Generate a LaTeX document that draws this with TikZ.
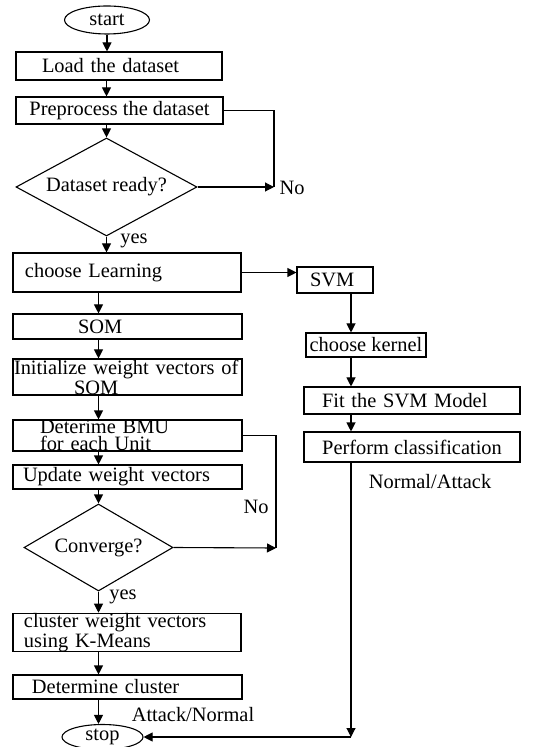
\documentclass[tikz,border=0pt]{standalone}
\usepackage{fontspec}
\setmainfont{Liberation Serif}
\usetikzlibrary{shapes.geometric,arrows.meta}

\begin{document}
\begin{tikzpicture}[x=0.5pt, y=-0.5pt, line width=0.55pt,
    font=\fontsize{10.2}{7.5}\selectfont,
    box/.style={draw, rectangle, align=left, inner ysep=0pt},
    cbox/.style={draw, rectangle, align=center, inner sep=0pt},
    decision/.style={draw, diamond, aspect=2, inner sep=0pt},
    terminal/.style={draw, ellipse, inner sep=0pt},
    arr/.style={-{Triangle[length=4.5pt,width=4.5pt]}}]
    \useasboundingbox (0,0) rectangle (553,747);

    % Start and dataset
    \node[terminal, minimum width=42.5pt, minimum height=14pt] (start) at (107,20) {start};
    \node[box, text width=77pt, inner xsep=13pt, minimum height=14pt] (load) at (119,66) {Load the dataset};
    \node[cbox, minimum width=103.5pt, minimum height=13.5pt] (prep) at (119.5,110.5) {Preprocess the dataset};
    \node[decision, minimum width=90.5pt, minimum height=49pt] (ready) at (106.5,187) {Dataset ready?};

    % Learning choice
    \node[box, text width=102pt, inner xsep=6pt, minimum height=19.5pt] (learn) at (127,272.5) {choose Learning};
    \node[box, text width=25pt, inner xsep=6.5pt, minimum height=13pt] (svm) at (335,280) {SVM};

    % SOM branch
    \node[box, text width=49.5pt, inner xsep=32.5pt, minimum height=12.5pt] (som) at (127.5,326.5) {SOM};
    \node[box, text width=113.5pt, inner xsep=0.5pt, minimum height=18pt] (init) at (127.5,377) {Initialize weight vectors of\\\hspace*{30pt}SOM};
    \node[box, text width=87.5pt, inner xsep=13.5pt, minimum height=15.5pt, font=\fontsize{10.2}{8.6}\selectfont] (bmu) at (127.5,435.5) {Deterime BMU\\for each Unit};
    \node[box, text width=104.5pt, inner xsep=5pt, minimum height=12pt] (update) at (127.5,477) {Update weight vectors};
    \node[decision, minimum width=74.5pt, minimum height=43.5pt] (conv) at (98.5,547.5) {Converge?};
    \node[box, text width=103pt, inner xsep=5.5pt, minimum height=17.5pt] (cluster) at (127,632.5) {cluster weight vectors\\using K-Means};
    \node[box, text width=95.5pt, inner xsep=9.5pt, minimum height=12pt] (det) at (127.5,687) {Determine cluster};
    \node[terminal, minimum width=40.5pt, minimum height=12.5pt] (stop) at (102.5,737) {stop};

    % SVM branch
    \node[cbox, minimum width=60pt, minimum height=12pt] (kernel) at (366,345) {choose kernel};
    \node[box, text width=90pt, inner xsep=9pt, minimum height=13.5pt] (fit) at (412,400.5) {Fit the SVM Model};
    \node[cbox, minimum width=108pt, minimum height=15pt] (perf) at (412,447) {Perform classification};

    % Corners
    \coordinate (nojoin) at (274,187);
    \coordinate (loopjoin) at (276,548);
    \coordinate (tail) at (351,737);

    % Labels
    \node (yesa) at (134,241) {yes};
    \node (noa) at (292,188) {No};
    \node (nob) at (256,507) {No};
    \node (yesb) at (123,597) {yes};
    \node (normal) at (430,482) {Normal/Attack};
    \node (attack) at (193,715) {Attack/Normal};

    % Arrows
    \draw[arr] (start) -- (start |- load.north);
    \draw[arr] (load.south -| ready) -- (prep.north -| ready);
    \draw[arr] (prep.south -| ready) -- (ready.north);
    \draw (prep.east) -| (nojoin);
    \draw[arr] (ready.east) -- (nojoin);
    \draw[arr] (ready.south) -- (ready.south |- learn.north);
    \draw[arr] (learn) -- (learn -| svm.west);
    \draw[arr] (learn.south -| conv) -- (som.north -| conv);
    \draw[arr] (som.south -| conv) -- (init.north -| conv);
    \draw[arr] (init.south -| conv) -- (bmu.north -| conv);
    \draw[arr] (bmu.south -| conv) -- (update.north -| conv);
    \draw[arr] (update.south -| conv) -- (conv.north);
    \draw (bmu.east) -| (loopjoin);
    \draw[arr] (conv.east) -- (loopjoin);
    \draw[arr] (conv.south) -- (conv.south |- cluster.north);
    \draw[arr] (cluster.south -| conv) -- (det.north -| conv);
    \draw[arr] (det.south -| conv) -- (stop.north -| conv);
    \draw[arr] (svm.south -| tail) -- (kernel.north -| tail);
    \draw[arr] (kernel.south -| tail) -- (fit.north -| tail);
    \draw[arr] (fit.south -| tail) -- (perf.north -| tail);
    \draw[arr] (perf.south -| tail) -- (tail);
    \draw[arr] (tail) -- (stop.east);
\end{tikzpicture}
\end{document}
